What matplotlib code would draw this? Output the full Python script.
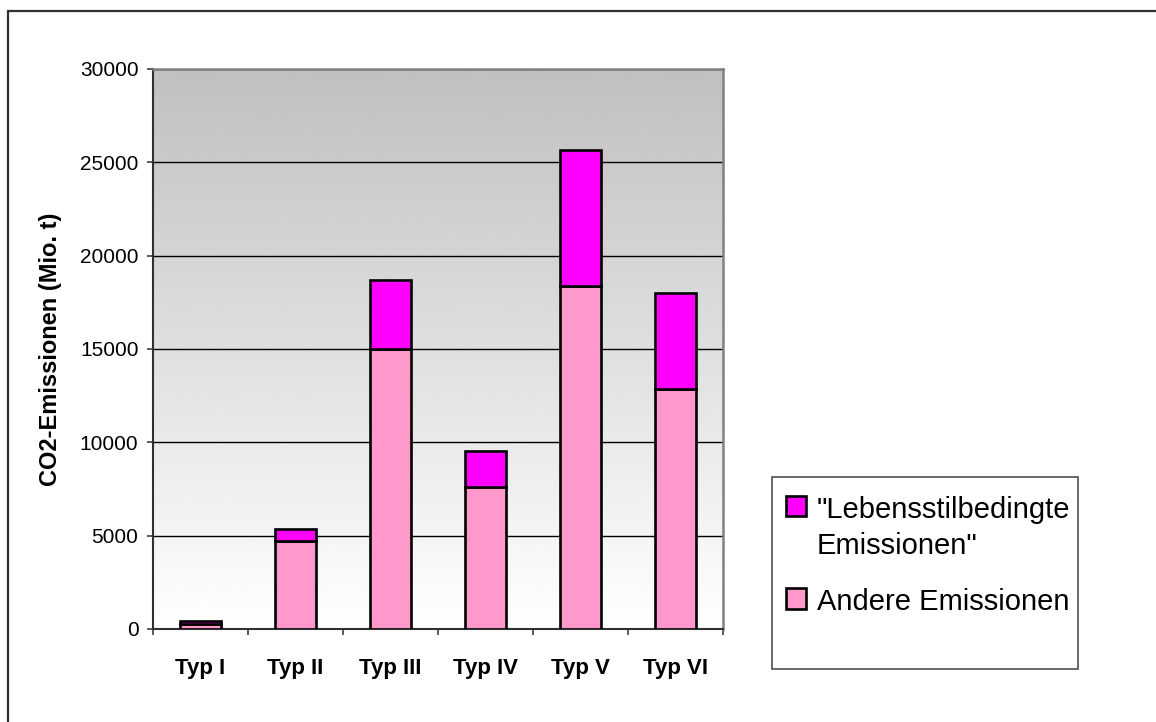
import matplotlib.pyplot as plt
import numpy as np
from matplotlib.patches import Rectangle

plt.rcParams['font.family'] = ['Liberation Sans', 'DejaVu Sans']

# daten
typen      = ["Typ I", "Typ II", "Typ III", "Typ IV", "Typ V", "Typ VI"]
andere     = [270, 4700, 15000, 7600, 18350, 12850]
lebensstil = [150, 670, 3680, 1950, 7300, 5170]
y_ticks    = [0, 5000, 10000, 15000, 20000, 25000, 30000]

W, H = 1156, 722
fig = plt.figure(figsize=(W / 100, H / 100), dpi=100)
ax = fig.add_axes([153 / W, 93 / H, 570 / W, 560 / H])

# hintergrund mit verlauf (grau oben, weiss unten)
grad = np.linspace(0.75, 1.0, 256).reshape(-1, 1)
ax.imshow(grad, extent=[0, 1, 0, 1], transform=ax.transAxes, aspect="auto",
          cmap="gray", vmin=0, vmax=1, origin="upper", zorder=0)

x = np.arange(len(typen))
breite = 0.43
ax.bar(x, andere, breite, color="#FF99CC", edgecolor="black", linewidth=1.9,
       label="Andere Emissionen", zorder=3)
ax.bar(x, lebensstil, breite, bottom=andere, color="#FF00FF", edgecolor="black",
       linewidth=1.9, label="\"Lebensstilbedingte\nEmissionen\"", zorder=3)

ax.set_xlim(-0.5, len(typen) - 0.5)
ax.set_ylim(0, 30000)
ax.set_yticks(y_ticks)
ax.yaxis.grid(True, color="black", linewidth=1.0, zorder=1)
ax.set_axisbelow(True)

ax.set_xticks(x)
ax.set_xticklabels(typen, fontweight="bold", fontsize=16)
ax.set_xticks(np.arange(len(typen) + 1) - 0.5, minor=True)
ax.tick_params(axis="x", which="major", length=0, pad=21)
ax.tick_params(axis="x", which="minor", length=4.5, width=1.2, direction="out", color="#404040")
ax.tick_params(axis="y", length=4.5, width=1.2, pad=6, labelsize=15, color="#404040")

ax.set_ylabel("CO2-Emissionen (Mio. t)", fontweight="bold", fontsize=17, labelpad=13)

for s in ["left", "bottom"]:
    ax.spines[s].set_color("#303030")
    ax.spines[s].set_linewidth(1.5)
for s in ["top", "right"]:
    ax.spines[s].set_color("#808080")
    ax.spines[s].set_linewidth(1.8)

# legende
handles, labels = ax.get_legend_handles_labels()
fig.patches.append(Rectangle((772 / W, 1 - 669 / H), 306 / W, 192 / H,
                             transform=fig.transFigure, facecolor="white",
                             edgecolor="#505050", linewidth=1.2, zorder=1))
leg = fig.legend(handles[::-1], labels[::-1], loc="upper left",
                 bbox_to_anchor=(786 / W, 1 - 496 / H), frameon=False,
                 fontsize=21, handlelength=0.7, handleheight=0.7,
                 handletextpad=0.35, labelspacing=0.98, borderpad=0, borderaxespad=0)
for t in leg.get_texts():
    t.set_linespacing(1.35)
# kaestchen an der ersten zeile ausrichten
for spalte in leg._legend_handle_box.get_children():
    for zeile in spalte.get_children():
        zeile.align = "top"

# rahmen um das ganze diagramm
fig.patches.append(Rectangle((8 / W, -0.1), 1.2, 1.1 - 11 / H,
                             transform=fig.transFigure, facecolor="none",
                             edgecolor="#303030", linewidth=1.6, zorder=0))

fig.savefig("out.png", dpi=100)
